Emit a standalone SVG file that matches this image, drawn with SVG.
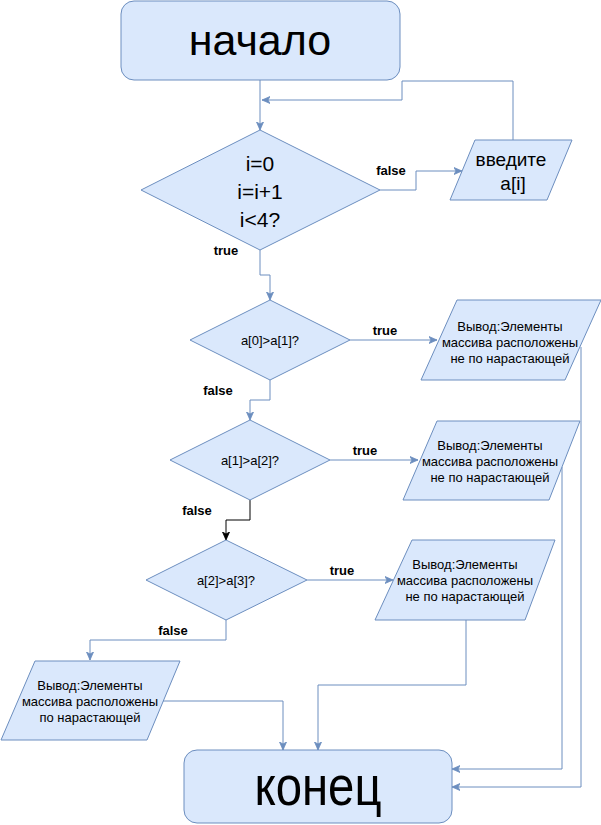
<svg xmlns="http://www.w3.org/2000/svg" width="601" height="825" viewBox="0 0 601 825">
<defs>
<marker id="arr" viewBox="0 0 8 8" refX="8" refY="4" markerWidth="8" markerHeight="8" markerUnits="userSpaceOnUse" orient="auto">
<path d="M0,0.5 L8,4 L0,7.5 L2,4 z" fill="#6c8ebf" stroke="#6c8ebf" stroke-width="0.8"/>
</marker>
<marker id="arrk" viewBox="0 0 8 8" refX="8" refY="4" markerWidth="8" markerHeight="8" markerUnits="userSpaceOnUse" orient="auto">
<path d="M0,0.5 L8,4 L0,7.5 L2,4 z" fill="#000" stroke="#000" stroke-width="0.8"/>
</marker>
</defs>
<style>
.shape{fill:#dae8fc;stroke:#6c8ebf;stroke-width:1}
.ln{fill:none;stroke:#6c8ebf;stroke-width:1;marker-end:url(#arr)}
.lnk{fill:none;stroke:#000;stroke-width:1;marker-end:url(#arrk)}
.t{font-family:"Liberation Sans",Arial,sans-serif;fill:#000;text-anchor:middle}
.s{font-size:13px}
.lbl{font-size:13px;font-weight:bold}
</style>
<rect width="601" height="825" fill="#fff"/>
<g id="connectors">
<path class="ln" d="M260,80 V130"/>
<path class="ln" d="M513,140 V81 H402 V100 H262"/>
<path class="ln" d="M380,190 H416 V171 H462"/>
<path class="ln" d="M260,250 V275 H270 V300"/>
<path class="ln" d="M350,340 H437"/>
<path class="ln" d="M270,380 V400 H250 V420"/>
<path class="ln" d="M330,460 H418"/>
<path class="lnk" d="M250,500 V520 H226 V540"/>
<path class="ln" d="M307,580 H393"/>
<path class="ln" d="M226,620 V640 H90 V660"/>
<path class="ln" d="M162,701 H283 V750"/>
<path class="ln" d="M466,620 V685 H318 V750"/>
<path class="ln" d="M562,467 V769 H452"/>
<path class="ln" d="M581,347 V787 H452"/>
<text class="t lbl" x="391" y="175">false</text>
<text class="t lbl" x="226" y="255">true</text>
<text class="t lbl" x="385" y="335">true</text>
<text class="t lbl" x="218" y="395">false</text>
<text class="t lbl" x="365" y="455">true</text>
<text class="t lbl" x="197" y="515">false</text>
<text class="t lbl" x="342" y="575">true</text>
<text class="t lbl" x="173" y="635">false</text>
</g>
<g id="start">
<rect class="shape" x="121" y="1" width="279" height="79" rx="13"/>
<text class="t" x="260" y="55" font-size="43">начало</text>
</g>
<g id="loop">
<polygon class="shape" points="141,190 260,130 380,190 260,250"/>
<text class="t" x="260" y="171" font-size="21">i=0</text>
<text class="t" x="260" y="199" font-size="21">i=i+1</text>
<text class="t" x="260" y="227" font-size="21">i&lt;4?</text>
</g>
<g id="input">
<polygon class="shape" points="475,140 572,140 547,200 450,200"/>
<text class="t" x="511" y="166" font-size="19">введите</text>
<text class="t" x="513" y="190" font-size="19">a[i]</text>
</g>
<g id="cmp01">
<polygon class="shape" points="190,340 270,300 350,340 270,380"/>
<text class="t s" x="270" y="345">a[0]&gt;a[1]?</text>
</g>
<g id="out1">
<polygon class="shape" points="457,300 601,300 565,380 421,380"/>
<text class="t s" x="510" y="331">Вывод:Элементы</text>
<text class="t s" x="510" y="347">массива расположены</text>
<text class="t s" x="510" y="363">не по нарастающей</text>
</g>
<g id="cmp12">
<polygon class="shape" points="170,460 250,420 330,460 250,500"/>
<text class="t s" x="250" y="465">a[1]&gt;a[2]?</text>
</g>
<g id="out2">
<polygon class="shape" points="437,421 580,421 549,500 403,500"/>
<text class="t s" x="490" y="450">Вывод:Элементы</text>
<text class="t s" x="490" y="466">массива расположены</text>
<text class="t s" x="490" y="482">не по нарастающей</text>
</g>
<g id="cmp23">
<polygon class="shape" points="146,580 226,540 307,580 226,620"/>
<text class="t s" x="226" y="585">a[2]&gt;a[3]?</text>
</g>
<g id="out3">
<polygon class="shape" points="412,540 555,540 525,620 375,620"/>
<text class="t s" x="465" y="569">Вывод:Элементы</text>
<text class="t s" x="465" y="585">массива расположены</text>
<text class="t s" x="465" y="601">не по нарастающей</text>
</g>
<g id="out4">
<polygon class="shape" points="35,661 180,661 147,740 1,740"/>
<text class="t s" x="90" y="690">Вывод:Элементы</text>
<text class="t s" x="90" y="706">массива расположены</text>
<text class="t s" x="90" y="722">по нарастающей</text>
</g>
<g id="end">
<rect class="shape" x="184" y="750" width="268" height="73" rx="13"/>
<text class="t" x="318" y="805" font-size="56" textLength="127" lengthAdjust="spacingAndGlyphs">конец</text>
</g>
</svg>
